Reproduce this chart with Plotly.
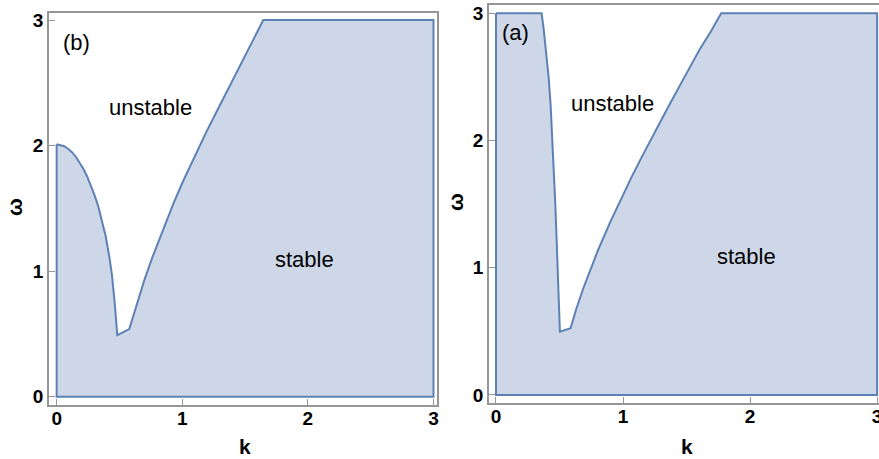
import plotly.graph_objects as go

# Panel (b) boundary (k, omega)
k_b = [0.0, 0.03, 0.06, 0.09, 0.12, 0.15, 0.18, 0.21, 0.24, 0.27, 0.30, 0.33,
       0.36, 0.39, 0.42, 0.44, 0.46, 0.475, 0.483,
       0.578, 0.62, 0.663, 0.70, 0.764, 0.85, 0.93, 1.008, 1.10, 1.19, 1.268,
       1.37, 1.473, 1.555, 1.645, 3.0]
w_b = [2.01, 2.005, 1.995, 1.975, 1.95, 1.915, 1.87, 1.82, 1.76, 1.69, 1.61, 1.52,
       1.41, 1.28, 1.11, 0.97, 0.77, 0.60, 0.49,
       0.539, 0.68, 0.82, 0.935, 1.115, 1.34, 1.54, 1.72, 1.92, 2.105, 2.26,
       2.46, 2.66, 2.82, 3.0, 3.0]

# Panel (a) boundary
k_a = [0.0, 0.359, 0.375, 0.398, 0.415, 0.43, 0.444, 0.456, 0.467, 0.477, 0.484,
       0.49, 0.497, 0.503,
       0.587, 0.63, 0.686, 0.74, 0.80, 0.90, 0.99, 1.066, 1.15, 1.236, 1.367,
       1.49, 1.603, 1.69, 1.773, 3.0]
w_a = [3.0, 3.0, 2.88, 2.673, 2.49, 2.28, 2.02, 1.755, 1.50, 1.232, 1.04,
       0.84, 0.67, 0.498,
       0.524, 0.67, 0.835, 0.98, 1.13, 1.36, 1.555, 1.71, 1.875, 2.04, 2.285,
       2.51, 2.715, 2.855, 3.0, 3.0]

tick_vals = [0, 1, 2, 3]
tick_text = ["<b>0</b>", "<b>1</b>", "<b>2</b>", "<b>3</b>"]

FILL = "rgb(206,215,232)"
LINE = "rgb(94,129,181)"
FRAME = "rgb(150,150,150)"
FONT = "Arial, Liberation Sans, sans-serif"


def region(k, w):
    xs = list(k) + [k[-1], k[0], k[0]]
    ys = list(w) + [0, 0, w[0]]
    return xs, ys


fig = go.Figure()
xb, yb = region(k_b, w_b)
fig.add_trace(go.Scatter(x=xb, y=yb, mode="lines", fill="toself",
                         fillcolor=FILL, line=dict(color=LINE, width=2),
                         xaxis="x", yaxis="y", showlegend=False, hoverinfo="skip"))
xa, ya = region(k_a, w_a)
fig.add_trace(go.Scatter(x=xa, y=ya, mode="lines", fill="toself",
                         fillcolor=FILL, line=dict(color=LINE, width=2),
                         xaxis="x2", yaxis="y2", showlegend=False, hoverinfo="skip"))

W, H = 879, 459


def ax_common():
    return dict(showgrid=False, zeroline=False, showline=True, mirror=True,
                linecolor=FRAME, linewidth=1.5, ticks="inside", ticklen=6,
                tickcolor=FRAME, tickwidth=1, tickvals=tick_vals, ticktext=tick_text,
                automargin=False, ticklabeloverflow="allow",
                tickfont=dict(family=FONT, size=19, color="black"))


xa1 = ax_common()
xa1.update(domain=[49 / W, 437 / W], range=[-0.061, 3.028], anchor="y",
           ticklabelstandoff=-5)
ya1 = ax_common()
ya1.update(domain=[(H - 405) / H, (H - 13) / H], range=[-0.066, 3.056], anchor="x")
xa2 = ax_common()
xa2.update(domain=[489 / W, 1.0], range=[-0.055, 3.015], anchor="y2",
           ticklabelstandoff=-5)
ya2 = ax_common()
ya2.update(domain=[(H - 403) / H, (H - 5) / H], range=[-0.063, 3.065], anchor="x2")

txt = dict(family=FONT, size=22, color="black")
ttl = dict(family=FONT, size=21, color="black")
c = dict(xanchor="center", yanchor="middle", showarrow=False)
annotations = [
    dict(text="(b)", x=0.154, y=2.82, xref="x", yref="y", font=txt, **c),
    dict(text="unstable", x=0.75, y=2.30, xref="x", yref="y", font=txt, **c),
    dict(text="stable", x=1.97, y=1.09, xref="x", yref="y", font=txt, **c),
    dict(text="(a)", x=0.15, y=2.85, xref="x2", yref="y2", font=txt, **c),
    dict(text="unstable", x=0.915, y=2.29, xref="x2", yref="y2", font=txt, **c),
    dict(text="stable", x=1.97, y=1.087, xref="x2", yref="y2", font=txt, **c),
    # axis titles
    dict(text="<b>k</b>", x=245 / W, y=(H - 446) / H, xref="paper", yref="paper",
         font=ttl, **c),
    dict(text="<b>k</b>", x=687 / W, y=(H - 446) / H, xref="paper", yref="paper",
         font=ttl, **c),
    dict(text="<b>ω</b>", x=15 / W, y=(H - 207) / H, xref="paper", yref="paper",
         font=ttl, textangle=-90, **c),
    dict(text="<b>ω</b>", x=455 / W, y=(H - 202) / H, xref="paper", yref="paper",
         font=ttl, textangle=-90, **c),
]

fig.update_layout(width=W, height=H, margin=dict(l=0, r=0, t=0, b=0),
                  paper_bgcolor="white", plot_bgcolor="white",
                  xaxis=xa1, yaxis=ya1, xaxis2=xa2, yaxis2=ya2,
                  annotations=annotations, showlegend=False)

fig.write_html("out.html", config={"displayModeBar": False},
               post_script="document.body.style.margin='0';document.body.style.padding='0';")
